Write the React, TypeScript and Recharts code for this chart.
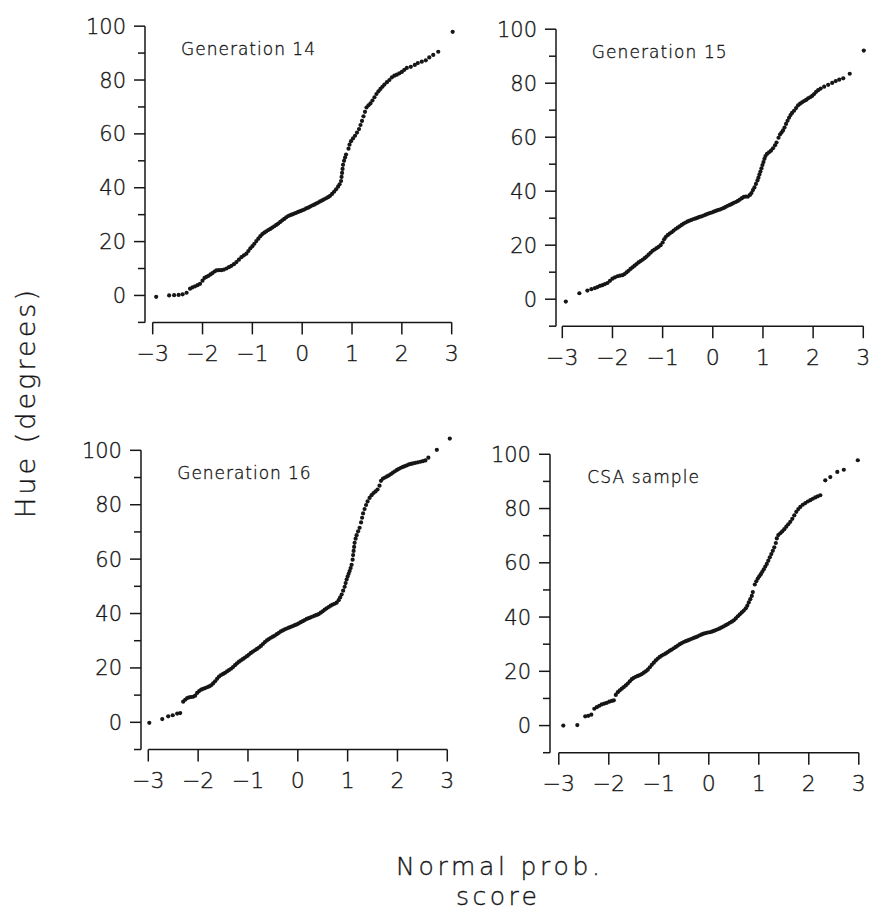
import React from "react";
import { ReferenceLine, Scatter, ScatterChart, XAxis, YAxis } from "recharts";

type Pt = [number, number];

// normal score, hue (degrees)
const GEN14: Pt[] = [
  [-2.93, -0.5], [-2.67, 0], [-2.57, 0.1], [-2.48, 0.2], [-2.4, 0.4], [-2.32, 1.0],
  [-2.25, 2.5], [-2.2, 3.0], [-2.15, 3.4], [-2.1, 3.8], [-2.05, 4.3], [-2.0, 5.5],
  [-1.96, 6.5], [-1.92, 6.9], [-1.88, 7.3], [-1.84, 7.8], [-1.8, 8.3], [-1.76, 8.9],
  [-1.72, 9.3], [-1.67, 9.4], [-1.62, 9.4], [-1.57, 9.6], [-1.52, 10.0], [-1.47, 10.5],
  [-1.42, 11.0], [-1.37, 11.6], [-1.32, 12.4], [-1.27, 13.3], [-1.22, 14.2], [-1.17, 14.9],
  [-1.12, 15.5], [-1.08, 16.5], [-1.04, 17.5], [-1.0, 18.3], [-0.96, 19.2], [-0.92, 20.2],
  [-0.88, 21.1], [-0.84, 22.0], [-0.8, 22.8], [-0.76, 23.3], [-0.72, 23.8], [-0.68, 24.3],
  [-0.64, 24.7], [-0.6, 25.2], [-0.56, 25.7], [-0.52, 26.2], [-0.48, 26.7], [-0.44, 27.3],
  [-0.4, 27.9], [-0.36, 28.4], [-0.32, 29.0], [-0.28, 29.5], [-0.24, 29.8], [-0.2, 30.1],
  [-0.16, 30.4], [-0.12, 30.7], [-0.08, 31.0], [-0.04, 31.3], [0.0, 31.6], [0.04, 31.9],
  [0.08, 32.3], [0.12, 32.6], [0.16, 33.0], [0.2, 33.4], [0.24, 33.7], [0.28, 34.1],
  [0.32, 34.5], [0.36, 34.9], [0.4, 35.3], [0.44, 35.7], [0.48, 36.1], [0.52, 36.5],
  [0.56, 37.0], [0.6, 37.7], [0.64, 38.5], [0.68, 39.4], [0.72, 40.4], [0.75, 41.3],
  [0.78, 42.5], [0.79, 44.0], [0.8, 45.5], [0.81, 47.0], [0.82, 48.5], [0.84, 50.0],
  [0.86, 51.2], [0.88, 52.3], [0.93, 54.5], [0.95, 56.0], [0.98, 57.3], [1.02, 58.3],
  [1.06, 59.3], [1.1, 60.5], [1.14, 61.8], [1.17, 63.3], [1.2, 64.8], [1.23, 66.5],
  [1.26, 68.2], [1.29, 69.8], [1.33, 70.6], [1.37, 71.3], [1.41, 72.4], [1.45, 73.6],
  [1.49, 74.8], [1.53, 75.8], [1.57, 76.7], [1.61, 77.5], [1.65, 78.3], [1.7, 79.2],
  [1.75, 80.0], [1.8, 81.0], [1.85, 81.6], [1.9, 82.0], [1.95, 82.5], [2.0, 83.0],
  [2.05, 83.8], [2.1, 84.5], [2.18, 84.9], [2.26, 85.6], [2.32, 86.3], [2.4, 86.8],
  [2.48, 87.3], [2.55, 88.4], [2.63, 89.3], [2.73, 90.5], [3.02, 97.9],
];

const GEN15: Pt[] = [
  [-2.93, -0.9], [-2.66, 2.2], [-2.5, 3.2], [-2.42, 3.7], [-2.35, 4.1],
  [-2.3, 4.5], [-2.25, 4.9], [-2.2, 5.2], [-2.15, 5.6], [-2.1, 6.0], [-2.05, 6.8],
  [-2.0, 7.6], [-1.95, 8.1], [-1.9, 8.5], [-1.85, 8.7], [-1.8, 8.9], [-1.76, 9.3],
  [-1.72, 9.9], [-1.68, 10.5], [-1.64, 11.2], [-1.6, 11.8], [-1.56, 12.4], [-1.52, 13.0],
  [-1.48, 13.6], [-1.44, 14.1], [-1.4, 14.6], [-1.36, 15.2], [-1.32, 15.8], [-1.28, 16.5],
  [-1.24, 17.2], [-1.2, 17.9], [-1.16, 18.4], [-1.12, 18.9], [-1.08, 19.4], [-1.04, 20.0],
  [-1.0, 21.0], [-0.97, 22.2], [-0.94, 23.0], [-0.9, 23.7], [-0.86, 24.3], [-0.82, 24.8],
  [-0.78, 25.4], [-0.74, 26.0], [-0.7, 26.5], [-0.66, 27.0], [-0.62, 27.5], [-0.58, 28.0],
  [-0.54, 28.4], [-0.5, 28.8], [-0.46, 29.1], [-0.42, 29.4], [-0.38, 29.7], [-0.34, 29.9],
  [-0.3, 30.2], [-0.26, 30.5], [-0.22, 30.7], [-0.18, 31.0], [-0.14, 31.3], [-0.1, 31.6],
  [-0.06, 31.9], [-0.02, 32.1], [0.02, 32.4], [0.06, 32.7], [0.1, 33.0], [0.14, 33.2],
  [0.18, 33.5], [0.22, 33.8], [0.26, 34.2], [0.3, 34.6], [0.34, 34.9], [0.38, 35.3],
  [0.42, 35.7], [0.46, 36.0], [0.5, 36.4], [0.54, 36.9], [0.58, 37.4], [0.62, 37.9],
  [0.66, 38.0], [0.7, 38.0], [0.74, 38.6], [0.77, 39.3], [0.8, 40.4], [0.83, 41.4],
  [0.86, 42.7], [0.89, 44.0], [0.91, 45.0], [0.93, 46.2], [0.95, 47.3], [0.97, 48.5],
  [0.99, 49.7], [1.01, 50.8], [1.03, 52.0], [1.05, 53.0], [1.08, 53.8], [1.12, 54.4],
  [1.16, 55.0], [1.2, 55.9], [1.24, 57.0], [1.27, 58.0], [1.31, 59.8], [1.34, 61.0],
  [1.37, 61.7], [1.4, 62.5], [1.43, 63.6], [1.46, 64.9], [1.49, 66.1], [1.52, 67.2],
  [1.55, 68.2], [1.58, 69.0], [1.62, 69.8], [1.66, 70.8], [1.7, 71.8], [1.74, 72.4],
  [1.78, 72.9], [1.82, 73.4], [1.86, 73.8], [1.9, 74.4], [1.94, 74.8], [1.98, 75.3],
  [2.02, 76.0], [2.06, 76.8], [2.1, 77.4], [2.15, 78.0], [2.22, 78.7], [2.3, 79.4],
  [2.38, 80.1], [2.45, 80.8], [2.52, 81.3], [2.6, 81.8], [2.73, 83.5], [3.01, 92.1],
];

const GEN16: Pt[] = [
  [-2.98, -0.2], [-2.72, 1.2], [-2.6, 2.2], [-2.51, 2.6], [-2.42, 3.2], [-2.36, 3.4],
  [-2.3, 7.6], [-2.26, 8.3], [-2.22, 8.9], [-2.18, 9.2], [-2.14, 9.3], [-2.1, 9.4],
  [-2.06, 9.8], [-2.02, 10.8], [-1.98, 11.5], [-1.94, 12.0], [-1.9, 12.3], [-1.86, 12.6],
  [-1.82, 12.9], [-1.78, 13.2], [-1.74, 13.6], [-1.7, 14.3], [-1.66, 15.1], [-1.62, 16.0],
  [-1.58, 16.8], [-1.54, 17.4], [-1.5, 17.8], [-1.46, 18.2], [-1.42, 18.7], [-1.38, 19.2],
  [-1.34, 19.7], [-1.3, 20.3], [-1.26, 21.0], [-1.22, 21.7], [-1.18, 22.3], [-1.14, 22.8],
  [-1.1, 23.3], [-1.06, 23.8], [-1.02, 24.3], [-0.98, 24.9], [-0.94, 25.5], [-0.9, 26.0],
  [-0.86, 26.5], [-0.82, 27.0], [-0.78, 27.5], [-0.74, 28.1], [-0.7, 28.8], [-0.66, 29.5],
  [-0.62, 30.1], [-0.58, 30.6], [-0.54, 31.1], [-0.5, 31.5], [-0.46, 31.9], [-0.42, 32.4],
  [-0.38, 32.9], [-0.34, 33.4], [-0.3, 33.8], [-0.26, 34.2], [-0.22, 34.5], [-0.18, 34.8],
  [-0.14, 35.1], [-0.1, 35.4], [-0.06, 35.7], [-0.02, 36.0], [0.02, 36.4], [0.06, 36.8],
  [0.1, 37.2], [0.14, 37.6], [0.18, 38.0], [0.22, 38.3], [0.26, 38.6], [0.3, 38.9],
  [0.34, 39.2], [0.38, 39.5], [0.42, 39.8], [0.46, 40.3], [0.5, 40.8], [0.54, 41.4],
  [0.58, 41.9], [0.62, 42.4], [0.66, 42.9], [0.7, 43.3], [0.74, 43.6], [0.78, 44.0],
  [0.82, 44.9], [0.85, 45.9], [0.88, 47.0], [0.91, 48.4], [0.94, 49.8], [0.96, 51.2],
  [0.98, 52.5], [1.0, 53.6], [1.02, 54.6], [1.04, 55.6], [1.06, 56.7], [1.08, 57.9],
  [1.1, 59.8], [1.11, 61.5], [1.12, 63.0], [1.13, 64.5], [1.14, 66.0], [1.16, 67.5],
  [1.18, 68.8], [1.21, 70.2], [1.24, 71.5], [1.27, 73.5], [1.29, 75.2], [1.31, 76.8],
  [1.34, 78.4], [1.37, 79.9], [1.4, 81.2], [1.44, 82.5], [1.48, 83.5], [1.52, 84.3],
  [1.56, 84.9], [1.6, 85.6], [1.64, 87.0], [1.67, 88.8], [1.71, 89.6], [1.75, 90.0],
  [1.79, 90.4], [1.83, 90.8], [1.87, 91.3], [1.91, 91.8], [1.95, 92.3], [1.99, 92.8],
  [2.03, 93.2], [2.07, 93.6], [2.11, 93.9], [2.15, 94.2], [2.19, 94.5], [2.23, 94.8],
  [2.27, 95.0], [2.31, 95.2], [2.36, 95.4], [2.41, 95.6], [2.46, 95.8], [2.51, 96.0],
  [2.56, 96.3], [2.62, 97.3], [2.79, 100.2], [3.05, 104.3],
];

const CSA: Pt[] = [
  [-2.91, 0], [-2.63, 0.2], [-2.47, 3.4], [-2.41, 3.6], [-2.35, 4.0], [-2.29, 6.2],
  [-2.24, 6.8], [-2.19, 7.3], [-2.14, 7.8], [-2.09, 8.1], [-2.04, 8.4], [-1.99, 8.8],
  [-1.94, 9.1], [-1.9, 9.3], [-1.86, 11.3], [-1.82, 12.3], [-1.78, 13.0], [-1.74, 13.6],
  [-1.7, 14.2], [-1.66, 14.8], [-1.62, 15.5], [-1.58, 16.3], [-1.54, 17.1], [-1.5, 17.6],
  [-1.46, 18.0], [-1.42, 18.3], [-1.38, 18.6], [-1.34, 19.0], [-1.3, 19.5], [-1.26, 20.0],
  [-1.22, 20.6], [-1.18, 21.5], [-1.14, 22.4], [-1.1, 23.2], [-1.06, 24.0], [-1.02, 24.7],
  [-0.98, 25.3], [-0.94, 25.8], [-0.9, 26.2], [-0.86, 26.6], [-0.82, 27.1], [-0.78, 27.6],
  [-0.74, 28.0], [-0.7, 28.5], [-0.66, 29.0], [-0.62, 29.5], [-0.58, 30.0], [-0.54, 30.4],
  [-0.5, 30.8], [-0.46, 31.1], [-0.42, 31.4], [-0.38, 31.7], [-0.34, 32.0], [-0.3, 32.3],
  [-0.26, 32.6], [-0.22, 32.9], [-0.18, 33.3], [-0.14, 33.6], [-0.1, 33.9], [-0.06, 34.1],
  [-0.02, 34.3], [0.02, 34.4], [0.06, 34.6], [0.1, 34.9], [0.14, 35.2], [0.18, 35.5],
  [0.22, 35.8], [0.26, 36.2], [0.3, 36.6], [0.34, 37.0], [0.38, 37.4], [0.42, 37.9],
  [0.46, 38.3], [0.5, 38.8], [0.54, 39.5], [0.58, 40.3], [0.62, 41.0], [0.66, 41.7],
  [0.7, 42.4], [0.74, 43.2], [0.77, 44.2], [0.8, 45.4], [0.83, 46.6], [0.86, 47.8],
  [0.88, 49.2], [0.92, 52.0], [0.95, 53.2], [0.98, 54.2], [1.01, 55.0], [1.04, 55.8],
  [1.07, 56.7], [1.1, 57.6], [1.13, 58.6], [1.16, 59.6], [1.19, 60.8], [1.22, 62.0],
  [1.25, 63.2], [1.28, 64.4], [1.31, 65.7], [1.34, 67.3], [1.36, 69.0], [1.39, 70.2],
  [1.43, 70.9], [1.47, 71.6], [1.51, 72.4], [1.55, 73.3], [1.59, 74.2], [1.63, 75.1],
  [1.67, 76.2], [1.71, 77.5], [1.75, 78.8], [1.79, 79.8], [1.83, 80.6], [1.88, 81.4],
  [1.93, 82.0], [1.98, 82.6], [2.03, 83.1], [2.08, 83.6], [2.13, 84.1], [2.18, 84.5],
  [2.23, 84.9], [2.33, 90.4], [2.43, 91.6], [2.57, 93.5], [2.7, 94.3], [2.98, 97.8],
];

const TITLES = ["Generation 14", "Generation 15", "Generation 16", "CSA sample"];
const X_TICKS = [-3, -2, -1, 0, 1, 2, 3];
const Y_TICKS = [-10, 0, 10, 20, 30, 40, 50, 60, 70, 80, 90, 100];

const INK = "#161616";
const FONT = "'DejaVu Sans', Verdana, sans-serif";
const THIN = 200;
const Y_AXIS_W = 60;
const X_AXIS_H = 46;
const RIGHT_PAD = 16;
const X_MAX = 3.1;
const Y_MIN = -10;
const Y_MAX = 106;

// stroked lightly so the thin face reads like the plotter lettering
const textStyle = {
  fontFamily: FONT,
  fontWeight: THIN,
  fill: INK,
  stroke: INK,
  strokeWidth: 0.35,
};

// pixel anchors of each panel: y-axis line, x=-3, x=3, y=100, y=0; title spot
const LAYOUT = [
  { axisX: 145, xLo: 152.7, xHi: 451.7, y100: 26, y0: 295.3, tx: 181, ty: 55, tw: 134 },
  { axisX: 556, xLo: 562.3, xHi: 863.3, y100: 29.3, y0: 299.3, tx: 591.7, ty: 58.3, tw: 135 },
  { axisX: 141, xLo: 148.3, xHi: 447.3, y100: 450, y0: 722, tx: 177.3, ty: 479.3, tw: 133.4 },
  { axisX: 549.5, xLo: 558.3, xHi: 858.3, y100: 454, y0: 725.3, tx: 587.3, ty: 482.7, tw: 111.7 },
];

type Geo = (typeof LAYOUT)[number];

function Dot(props: any) {
  if (props.cx == null || props.cy == null) return <g />;
  return <circle cx={props.cx} cy={props.cy} r={2.1} fill={INK} />;
}

function Panel({ data, geo }: { data: Pt[]; geo: Geo }) {
  const k = (geo.xHi - geo.xLo) / 6;
  const xMin = -3 - (geo.xLo - geo.axisX) / k;
  const plotRight = geo.xHi + (X_MAX - 3) * k;
  const ky = (geo.y0 - geo.y100) / 100;
  const plotTop = geo.y100 - (Y_MAX - 100) * ky;
  const plotBottom = geo.y0 - Y_MIN * ky;
  const width = plotRight - geo.axisX + Y_AXIS_W + RIGHT_PAD;
  const innerH = plotBottom - plotTop;
  const height = innerH + X_AXIS_H;
  const points = data.map(([x, y]) => ({ x, y }));

  const xTick = (p: any) => {
    const v = p.payload.value;
    const label = v < 0 ? `\u2212${Math.abs(v)}` : String(v);
    return (
      <text x={p.x} y={innerH + 38.5} textAnchor="middle" fontSize={22} style={textStyle}>
        {label}
      </text>
    );
  };

  const yTick = (p: any) => {
    const v = p.payload.value;
    const major = v >= 0 && v % 20 === 0;
    const len = major ? 11 : 7;
    return (
      <g>
        <line x1={Y_AXIS_W - len} x2={Y_AXIS_W} y1={p.y} y2={p.y} stroke={INK} strokeWidth={1.5} />
        {major ? (
          <text
            x={Y_AXIS_W - 19}
            y={p.y}
            dy="0.36em"
            textAnchor="end"
            fontSize={21}
            style={textStyle}
          >
            {v}
          </text>
        ) : null}
      </g>
    );
  };

  return (
    <div style={{ position: "absolute", left: geo.axisX - Y_AXIS_W, top: plotTop }}>
      <ScatterChart
        width={width}
        height={height}
        margin={{ top: 0, right: RIGHT_PAD, bottom: 0, left: 0 }}
      >
        <XAxis
          type="number"
          dataKey="x"
          domain={[xMin, X_MAX]}
          allowDataOverflow
          ticks={X_TICKS}
          interval={0}
          axisLine={false}
          tickLine={{ stroke: INK, strokeWidth: 1.5 }}
          tickSize={12}
          tickMargin={0}
          height={X_AXIS_H}
          tick={xTick}
        />
        <YAxis
          type="number"
          dataKey="y"
          domain={[Y_MIN, Y_MAX]}
          allowDataOverflow
          ticks={Y_TICKS}
          interval={0}
          axisLine={false}
          tickLine={false}
          tickSize={0}
          tickMargin={0}
          width={Y_AXIS_W}
          tick={yTick}
        />
        <ReferenceLine
          segment={[{ x: -3, y: Y_MIN }, { x: 3, y: Y_MIN }]}
          stroke={INK}
          strokeWidth={1.5}
          ifOverflow="visible"
        />
        <ReferenceLine
          segment={[{ x: xMin, y: Y_MIN }, { x: xMin, y: 100 }]}
          stroke={INK}
          strokeWidth={1.5}
          ifOverflow="visible"
        />
        <Scatter data={points} shape={Dot} isAnimationActive={false} />
      </ScatterChart>
    </div>
  );
}

export default function App() {
  const series = [GEN14, GEN15, GEN16, CSA];
  return (
    <div
      style={{
        position: "absolute",
        left: 0,
        top: 0,
        width: 869,
        height: 911,
        overflow: "hidden",
        background: "#fff",
      }}
    >
      {series.map((data, i) => (
        <Panel key={TITLES[i]} data={data} geo={LAYOUT[i]} />
      ))}
      <svg
        width={869}
        height={911}
        style={{ position: "absolute", left: 0, top: 0, pointerEvents: "none" }}
      >
        {LAYOUT.map((g, i) => (
          <text
            key={TITLES[i]}
            x={g.tx}
            y={g.ty}
            fontSize={17}
            style={textStyle}
            textLength={g.tw}
            lengthAdjust="spacing"
          >
            {TITLES[i]}
          </text>
        ))}
        <text
          x={35}
          y={404}
          transform="rotate(-90 35 404)"
          textAnchor="middle"
          fontSize={27}
          style={textStyle}
          textLength={228}
          lengthAdjust="spacing"
        >
          Hue (degrees)
        </text>
        <text
          x={498}
          y={875}
          textAnchor="middle"
          fontSize={25}
          style={textStyle}
          textLength={204}
          lengthAdjust="spacing"
        >
          Normal prob.
        </text>
        <text
          x={496.5}
          y={905}
          textAnchor="middle"
          fontSize={25}
          style={textStyle}
          textLength={81}
          lengthAdjust="spacing"
        >
          score
        </text>
      </svg>
    </div>
  );
}
